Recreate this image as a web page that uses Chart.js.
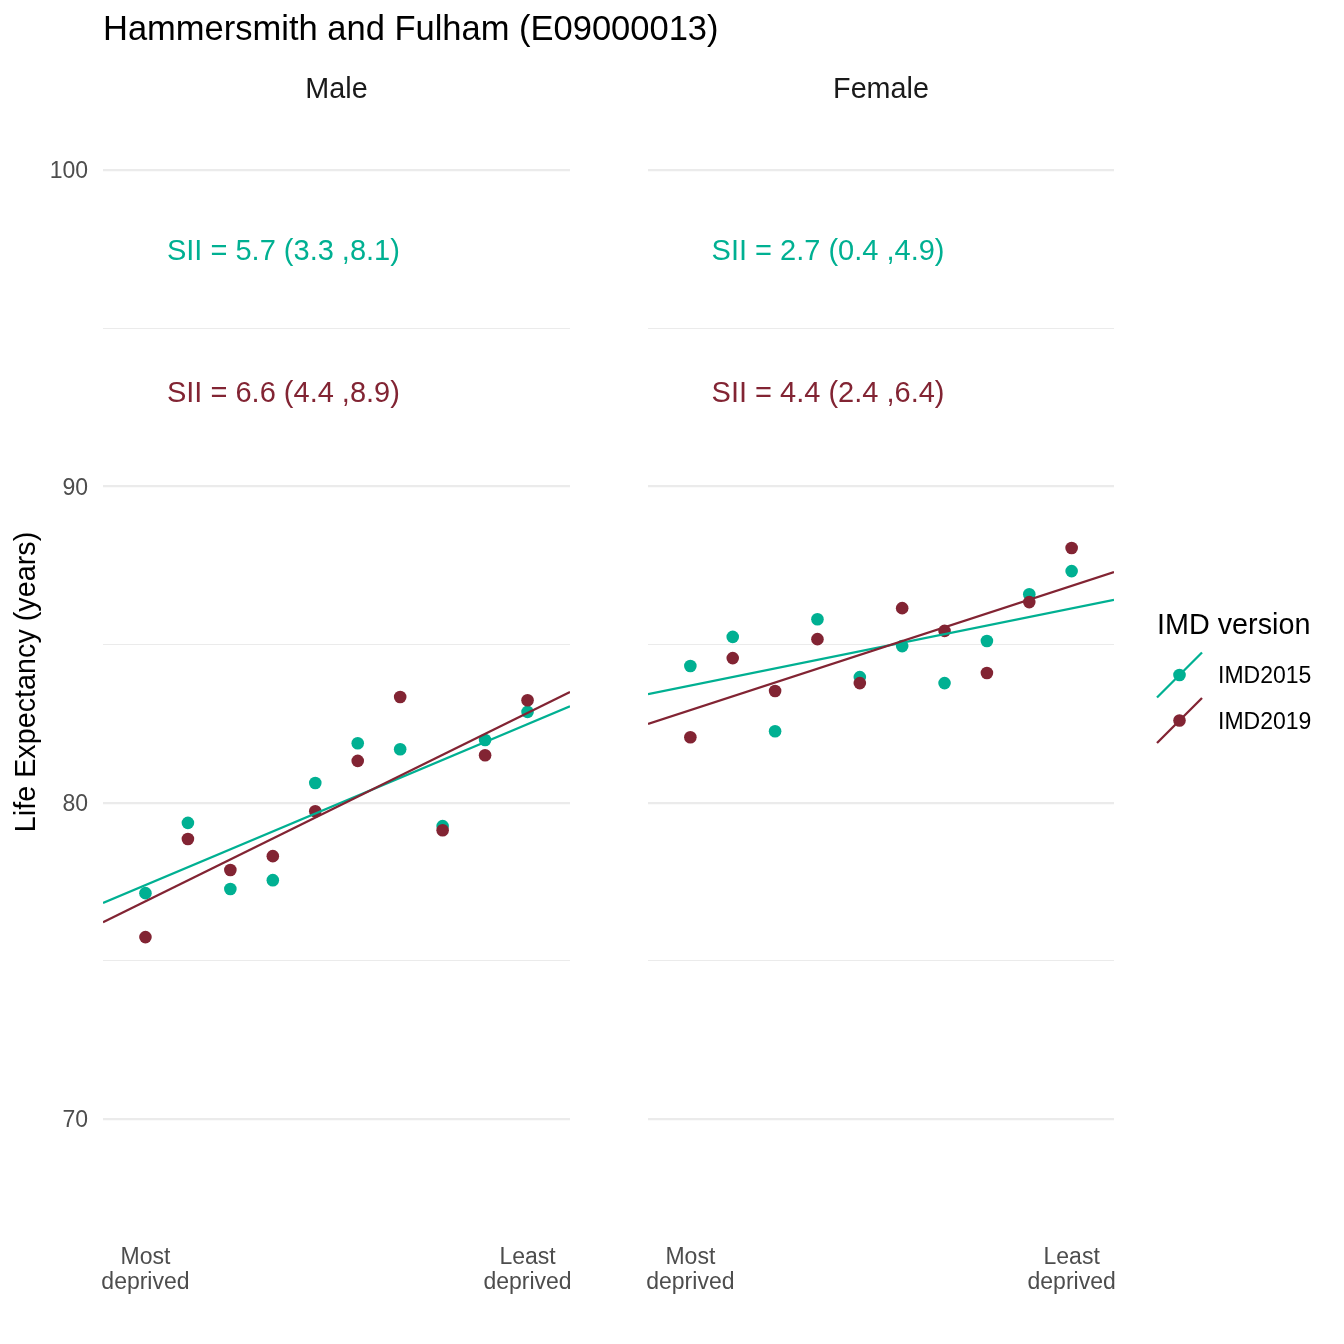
<!DOCTYPE html>
<html>
<head>
<meta charset="utf-8">
<script src="https://cdn.jsdelivr.net/npm/chart.js@4.4.0/dist/chart.umd.min.js"></script>
<style>
  html, body { margin: 0; padding: 0; background: #fff; }
  #wrap { position: relative; width: 1344px; height: 1344px; }
  #wrap canvas { position: absolute; left: 0; top: 0; }
</style>
</head>
<body>
<div id="wrap">
  <canvas id="male" width="1344" height="1344"></canvas>
  <canvas id="female" width="1344" height="1344"></canvas>
</div>
<script>
// deciles of deprivation, 1 = most deprived
const deciles = [1, 2, 3, 4, 5, 6, 7, 8, 9, 10];
const versions = ["IMD2015", "IMD2019"];

// life expectancy (years)
const male2015 = [77.14, 79.36, 77.27, 77.55, 80.62, 81.88, 81.69, 79.26, 81.98, 82.87];
const male2019 = [75.75, 78.85, 77.87, 78.31, 79.73, 81.32, 83.34, 79.13, 81.50, 83.24];
const female2015 = [84.32, 85.24, 82.26, 85.80, 83.97, 84.95, 83.78, 85.11, 86.59, 87.32];
const female2019 = [82.07, 84.57, 83.53, 85.17, 83.78, 86.15, 85.43, 84.10, 86.34, 88.05];

// fitted lines, value at each edge of the panel
const fitX = [0, 11];
const maleFit2015 = [76.83, 83.05];
const maleFit2019 = [76.22, 83.50];
const femaleFit2015 = [83.43, 86.41];
const femaleFit2019 = [82.49, 87.29];

const siiMale = ["SII = 5.7 (3.3 ,8.1)", "SII = 6.6 (4.4 ,8.9)"];
const siiFemale = ["SII = 2.7 (0.4 ,4.9)", "SII = 4.4 (2.4 ,6.4)"];
const siiY = [97.5, 93];

const xTickLabels = { 1: ["Most", "deprived"], 10: ["Least", "deprived"] };
const yTicks = [70, 75, 80, 85, 90, 95, 100];

const TEAL = "#00B092";
const MAROON = "#822433";
const FONT = "'Liberation Sans', Arial, Helvetica, sans-serif";

Chart.defaults.font.family = FONT;

function pts(xs, ys) {
  return xs.map((x, i) => ({ x: x, y: ys[i] }));
}

function makeDatasets(v2015, v2019, fit2015, fit2019) {
  return [
    { label: "IMD2019 fit", data: pts(fitX, fit2019), showLine: true, borderColor: MAROON,
      borderWidth: 2.3, pointRadius: 0, order: 0 },
    { label: "IMD2015 fit", data: pts(fitX, fit2015), showLine: true, borderColor: TEAL,
      borderWidth: 2.3, pointRadius: 0, order: 1 },
    { label: "IMD2019", data: pts(deciles, v2019), backgroundColor: MAROON, borderWidth: 0,
      pointRadius: 6.3, order: 2 },
    { label: "IMD2015", data: pts(deciles, v2015), backgroundColor: TEAL, borderWidth: 0,
      pointRadius: 6.3, order: 3 }
  ];
}

function makeScales(yWidth, showYLabels) {
  return {
    x: {
      type: "linear", min: 0, max: 11,
      afterBuildTicks: s => { s.ticks = [{ value: 1 }, { value: 10 }]; },
      afterFit: s => { s.height = 104; },
      grid: { display: false, drawTicks: false },
      border: { display: false },
      ticks: {
        autoSkip: false, maxRotation: 0, padding: 5.5,
        color: "#4D4D4D", font: { size: 23, lineHeight: 1.087 },
        callback: v => xTickLabels[v] || ""
      }
    },
    y: {
      type: "linear", min: 66.175, max: 101.897,
      afterBuildTicks: s => { s.ticks = yTicks.map(v => ({ value: v })); },
      afterFit: s => { s.width = yWidth; },
      grid: {
        color: "#EBEBEB", drawTicks: false,
        lineWidth: c => (c.tick && c.tick.value % 10 === 0) ? 2.2 : 1.1
      },
      border: { display: false },
      ticks: {
        display: showYLabels, padding: 15, labelOffset: 2, color: "#4D4D4D", font: { size: 23 },
        callback: v => (v % 10 === 0 ? String(v) : "")
      }
    }
  };
}

function drawPanelText(chart, strip, sii) {
  const { ctx, chartArea, scales } = chart;
  ctx.save();
  ctx.fillStyle = "#1A1A1A";
  ctx.font = "28.75px " + FONT;
  ctx.textAlign = "center";
  ctx.textBaseline = "alphabetic";
  ctx.fillText(strip, (chartArea.left + chartArea.right) / 2, 98);

  ctx.font = "29px " + FONT;
  ctx.textBaseline = "middle";
  const cx = scales.x.getPixelForValue(4.25);
  [TEAL, MAROON].forEach((col, i) => {
    ctx.fillStyle = col;
    ctx.fillText(sii[i], cx, scales.y.getPixelForValue(siiY[i]) + 3);
  });
  ctx.restore();
}

const maleText = {
  id: "maleText",
  afterDraw(chart) {
    const ctx = chart.ctx;
    drawPanelText(chart, "Male", siiMale);
    ctx.save();
    ctx.fillStyle = "#000";
    ctx.font = "34.5px " + FONT;
    ctx.textAlign = "left";
    ctx.textBaseline = "alphabetic";
    ctx.fillText("Hammersmith and Fulham (E09000013)", 103, 40);

    ctx.translate(27, 682);
    ctx.rotate(-Math.PI / 2);
    ctx.font = "28.75px " + FONT;
    ctx.textAlign = "center";
    ctx.textBaseline = "middle";
    ctx.fillText("Life Expectancy (years)", 0, 0);
    ctx.restore();
  }
};

const femaleText = {
  id: "femaleText",
  afterDraw(chart) {
    const ctx = chart.ctx;
    drawPanelText(chart, "Female", siiFemale);
    // legend
    ctx.save();
    ctx.fillStyle = "#000";
    ctx.font = "28.75px " + FONT;
    ctx.textAlign = "left";
    ctx.textBaseline = "middle";
    ctx.fillText("IMD version", 1157, 626);
    ctx.font = "23px " + FONT;
    [TEAL, MAROON].forEach((col, i) => {
      const cy = 675 + i * 45.5;
      ctx.strokeStyle = col;
      ctx.lineWidth = 2.3;
      ctx.beginPath();
      ctx.moveTo(1157, cy + 22.5);
      ctx.lineTo(1202, cy - 22.5);
      ctx.stroke();
      ctx.fillStyle = col;
      ctx.beginPath();
      ctx.arc(1179.5, cy, 6.3, 0, Math.PI * 2);
      ctx.fill();
      ctx.fillStyle = "#000";
      ctx.fillText(versions[i], 1218, cy + 2);
    });
    ctx.restore();
  }
};

new Chart(document.getElementById("male"), {
  type: "scatter",
  data: { datasets: makeDatasets(male2015, male2019, maleFit2015, maleFit2019) },
  options: {
    responsive: false,
    animation: false,
    layout: { padding: { left: 0, right: 774, top: 110, bottom: 0 } },
    plugins: { legend: { display: false }, tooltip: { enabled: false } },
    scales: makeScales(103, true)
  },
  plugins: [maleText]
});

new Chart(document.getElementById("female"), {
  type: "scatter",
  data: { datasets: makeDatasets(female2015, female2019, femaleFit2015, femaleFit2019) },
  options: {
    responsive: false,
    animation: false,
    layout: { padding: { left: 0, right: 230, top: 110, bottom: 0 } },
    plugins: { legend: { display: false }, tooltip: { enabled: false } },
    scales: makeScales(648, false)
  },
  plugins: [femaleText]
});
</script>
</body>
</html>
